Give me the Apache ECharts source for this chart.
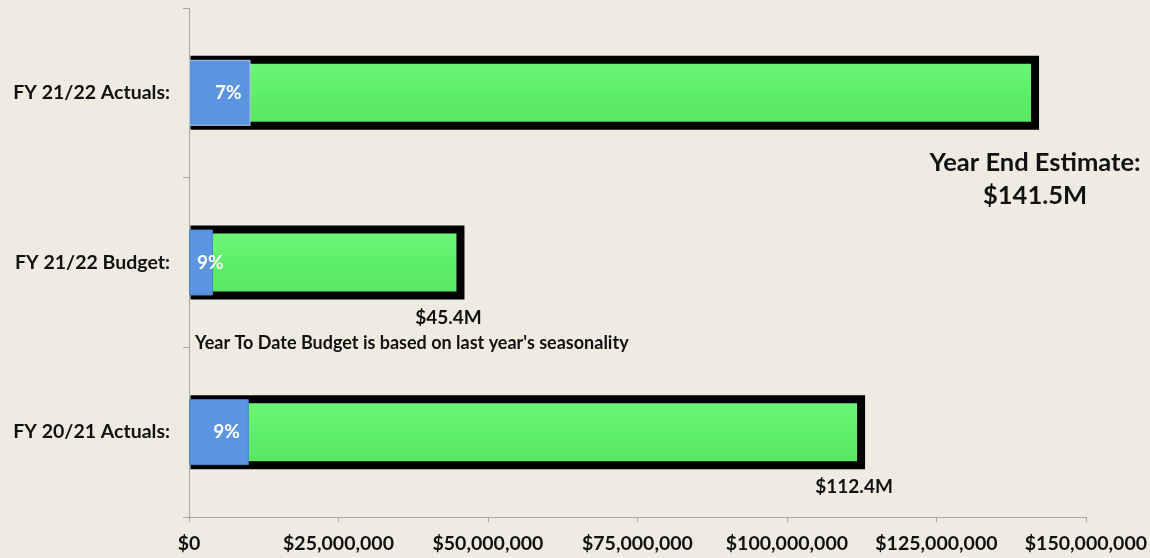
<!DOCTYPE html>
<html>
<head>
<meta charset="utf-8">
<style>
  html, body { margin: 0; padding: 0; background: #EEEBE0; }
  #chart { width: 1150px; height: 558px; }
</style>
<script src="https://cdn.jsdelivr.net/npm/echarts@6/dist/echarts.min.js"></script>
</head>
<body>
<div id="chart"></div>
<script>
// Categories (bottom to top)
const categories = ['FY 20/21 Actuals:', 'FY 21/22 Budget:', 'FY 21/22 Actuals:'];
// Full-year / estimate totals
const totals = [112.4e6, 45.4e6, 141.5e6];
// Year-to-date amounts (blue portion)
const ytd = [10.0e6, 4.0e6, 10.3e6];
// Percent labels
const pctLabels = ['9%', '9%', '7%'];
// Total labels
const totalLabels = ['$112.4M', '$45.4M', 'Year End Estimate:\n$141.5M'];
// X axis ticks
const axisMin = 0, axisMax = 150e6, axisStep = 25e6;
const noteText = "Year To Date Budget is based on last year's seasonality";

const FONT = 'Lato';
const BAR_H = 66;
const FRAME_W = 8;
const chart = echarts.init(document.getElementById('chart'), null, { renderer: 'canvas' });

function fmtMoney(v) {
  return '$' + Math.round(v).toString().replace(/\B(?=(\d{3})+(?!\d))/g, ',');
}

const greenFill = new echarts.graphic.LinearGradient(0, 0, 0, 1, [
  { offset: 0, color: '#6FF57A' },
  { offset: 0.5, color: '#5EEF69' },
  { offset: 1, color: '#58E463' }
]);

const totalLabelCfg = [
  { offset: [-7, 22], fontSize: 19 },
  { offset: [-12, 22], fontSize: 19 },
  { offset: [0, 53], fontSize: 25.5, lineHeight: 33 }
];

const pctLabelCfg = [
  { position: 'insideRight', distance: 9 },
  { position: 'insideLeft', distance: 8 },
  { position: 'insideRight', distance: 9 }
];

const blueBorders = ['#4C80C8', '#4C80C8', '#B8C6D8'];

const option = {
  backgroundColor: '#EEEBE0',
  animation: false,
  grid: { left: 189, right: 62, top: 8, bottom: 41, containLabel: false },
  xAxis: {
    type: 'value',
    min: axisMin,
    max: axisMax,
    interval: axisStep,
    axisLine: { show: true, lineStyle: { color: '#A6A6A6', width: 1 } },
    axisTick: { show: true, length: 5, lineStyle: { color: '#A6A6A6' } },
    splitLine: { show: false },
    axisLabel: {
      formatter: fmtMoney,
      fontFamily: FONT, fontWeight: 'bold', fontSize: 19.5, color: '#111111', margin: 17
    }
  },
  yAxis: {
    type: 'category',
    data: categories,
    axisLine: { show: true, lineStyle: { color: '#A6A6A6', width: 1 } },
    axisTick: { show: true, length: 6, lineStyle: { color: '#A6A6A6' } },
    axisLabel: {
      fontFamily: FONT, fontWeight: 'bold', fontSize: 19.5, color: '#111111', margin: 19
    }
  },
  series: [
    {
      name: 'Total',
      type: 'bar',
      barWidth: BAR_H,
      barGap: '-100%',
      z: 2,
      data: totals.map((v, i) => ({
        value: v,
        label: {
          show: true,
          formatter: totalLabels[i],
          position: ['100%', '100%'],
          align: 'center',
          verticalAlign: 'middle',
          offset: totalLabelCfg[i].offset,
          fontSize: totalLabelCfg[i].fontSize,
          lineHeight: totalLabelCfg[i].lineHeight || 22,
          fontFamily: FONT, fontWeight: 'bold', color: '#111111'
        }
      })),
      itemStyle: { color: greenFill }
    },
    {
      name: 'Frame',
      type: 'custom',
      z: 3,
      silent: true,
      encode: { x: 0, y: 1 },
      data: totals.map((v, i) => [v, i]),
      renderItem: function (params, api) {
        const idx = api.value(1);
        const start = api.coord([0, idx]);
        const end = api.coord([api.value(0), idx]);
        const x0 = start[0] + FRAME_W / 2 + 1.5;
        return {
          type: 'rect',
          shape: {
            x: x0,
            y: start[1] - BAR_H / 2,
            width: end[0] - x0,
            height: BAR_H
          },
          style: { fill: 'none', stroke: '#000000', lineWidth: FRAME_W }
        };
      }
    },
    {
      name: 'YTD',
      type: 'bar',
      barWidth: BAR_H,
      barGap: '-100%',
      z: 4,
      data: ytd.map((v, i) => ({
        value: v,
        itemStyle: { borderColor: blueBorders[i] },
        label: {
          show: true,
          formatter: pctLabels[i],
          position: pctLabelCfg[i].position,
          distance: pctLabelCfg[i].distance,
          fontFamily: FONT, fontWeight: 'bold', fontSize: 19, color: '#FFFFFF'
        }
      })),
      itemStyle: { color: '#5B95E0', borderWidth: 1 }
    }
  ],
  graphic: [
    {
      type: 'text',
      left: 195,
      top: 334,
      style: {
        text: noteText,
        font: 'bold 18px ' + FONT,
        fill: '#111111'
      }
    }
  ]
};

chart.setOption(option);
</script>
</body>
</html>
